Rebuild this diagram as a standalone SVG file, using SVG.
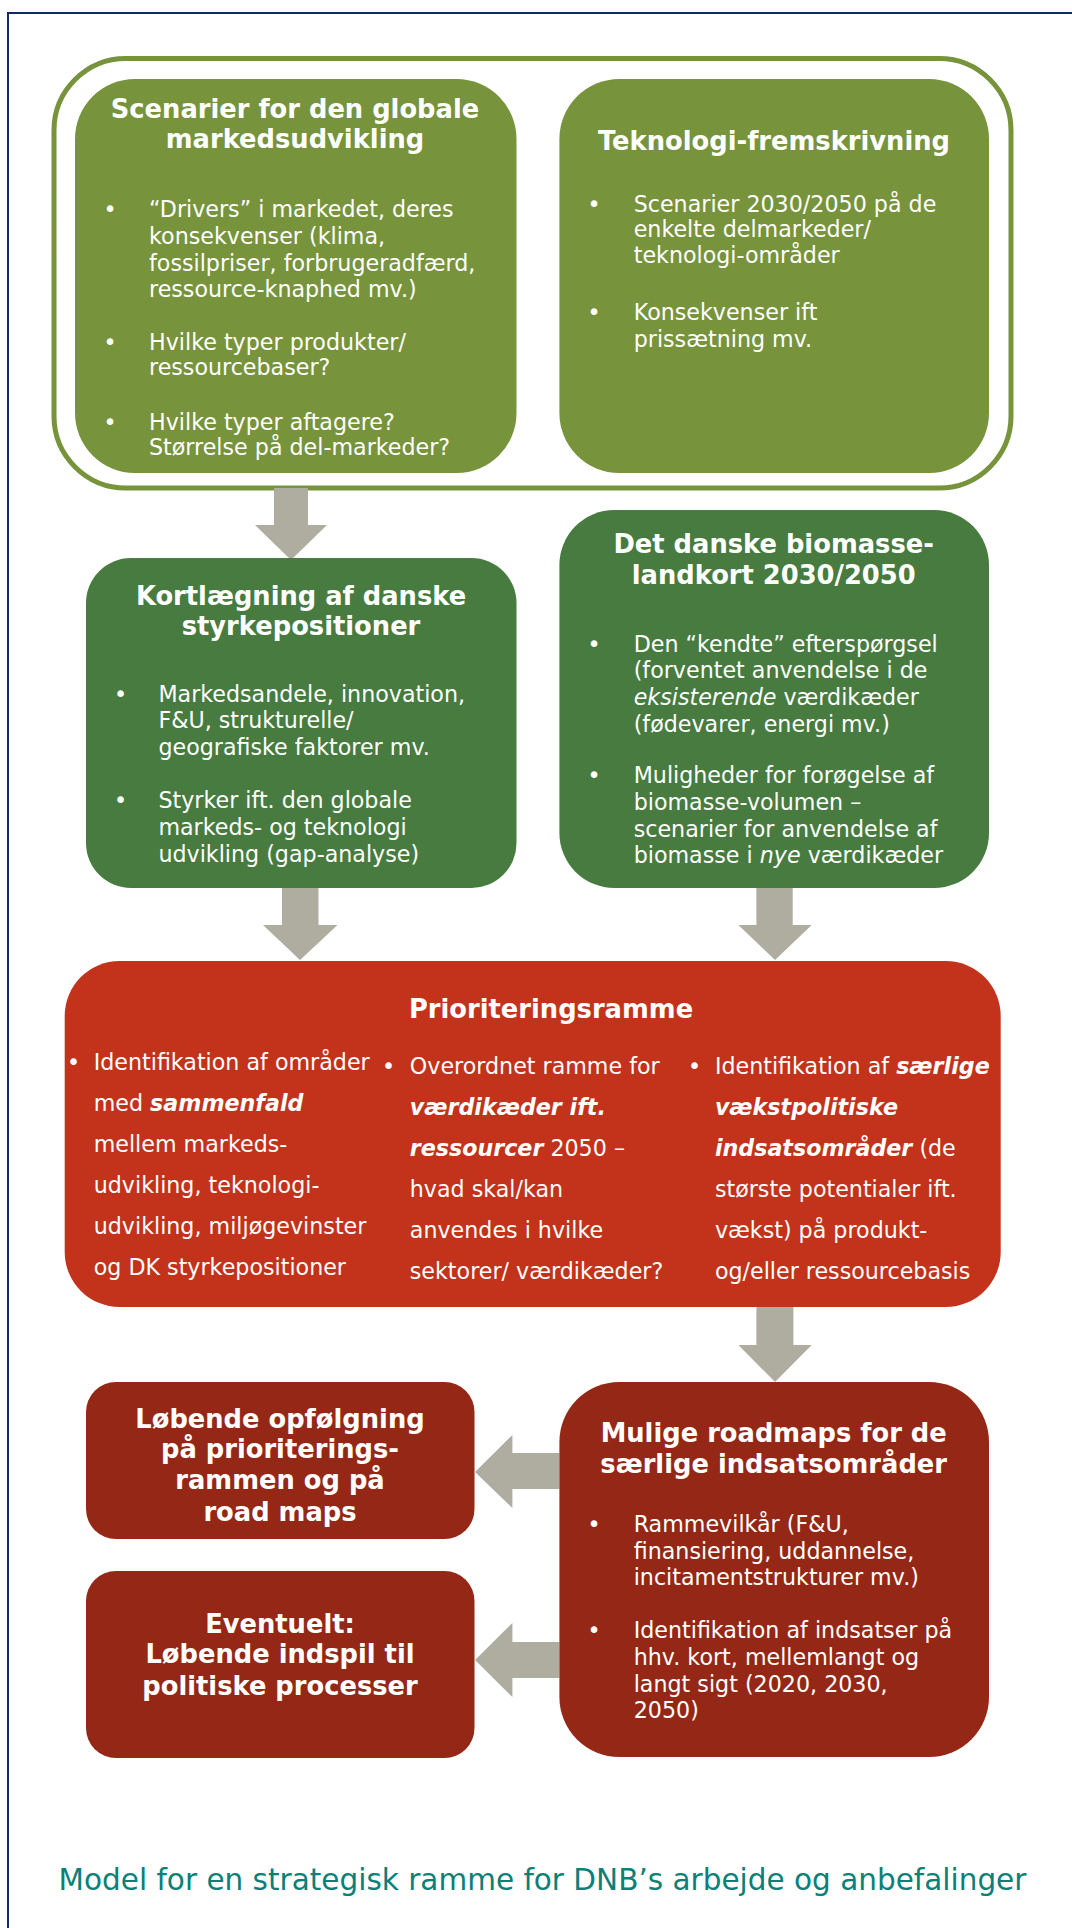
<svg xmlns="http://www.w3.org/2000/svg" width="1072" height="1928" viewBox="0 0 1072 1928">
<style>
.t{font-family:"DejaVu Sans","Verdana",sans-serif;font-weight:bold;font-size:25.75px;fill:#fff;text-anchor:middle}
.b{font-family:"DejaVu Sans","Verdana",sans-serif;font-size:22.2px;fill:#fff}
.bi{font-weight:bold;font-style:italic}
.i{font-style:italic}
.arr{fill:#AEAD9F}
.olive{fill:#77933C}
.green{fill:#477B3F}
.red{fill:#C3321A}
.dred{fill:#952716}
</style>
<rect x="0" y="0" width="1072" height="1928" fill="#fff"/>
<g id="frame">
<line x1="7" y1="13" x2="1072" y2="13" stroke="#0F2A6B" stroke-width="2"/>
<line x1="8" y1="13" x2="8" y2="1928" stroke="#0F2A6B" stroke-width="2"/>
</g>
<g id="outer-group">
<rect x="54" y="58.5" width="957" height="429.5" rx="72" ry="72" fill="#fff" stroke="#77933C" stroke-width="5"/>
</g>
<g id="connectors">
<polygon class="arr" points="274,488 308,488 308,525 327,525 291,560 255,525 274,525"/>
<polygon class="arr" points="282,888 318.5,888 318.5,925 337.5,925 300,960 263,925 282,925"/>
<polygon class="arr" points="756.4,888 792.7,888 792.7,925 811.7,925 775,960 738.4,925 756.4,925"/>
<polygon class="arr" points="756.4,1307 793.4,1307 793.4,1345 811.7,1345 775,1382 738.4,1345 756.4,1345"/>
<polygon class="arr" points="559.4,1453 512.4,1453 512.4,1435 475,1472 512.4,1508 512.4,1489 559.4,1489"/>
<polygon class="arr" points="559.4,1642 512.4,1642 512.4,1623 475,1660 512.4,1697 512.4,1678 559.4,1678"/>
</g>
<g id="scenarier">
<rect class="olive" x="75" y="79" width="441.5" height="394" rx="60" ry="60"/>
<text class="t" x="295" y="118">Scenarier for den globale</text>
<text class="t" x="295" y="148">markedsudvikling</text>
<text class="b" x="103.5" y="217">•</text>
<text class="b" x="149" y="217">“Drivers” i markedet, deres</text>
<text class="b" x="149" y="244">konsekvenser (klima,</text>
<text class="b" x="149" y="271">fossilpriser, forbrugeradfærd,</text>
<text class="b" x="149" y="297">ressource-knaphed mv.)</text>
<text class="b" x="103.5" y="350">•</text>
<text class="b" x="149" y="350">Hvilke typer produkter/</text>
<text class="b" x="149" y="375">ressourcebaser?</text>
<text class="b" x="103.5" y="430">•</text>
<text class="b" x="149" y="430">Hvilke typer aftagere?</text>
<text class="b" x="149" y="455">Størrelse på del-markeder?</text>
</g>
<g id="teknologi">
<rect class="olive" x="559.4" y="79" width="429.6" height="394" rx="60" ry="60"/>
<text class="t" x="774" y="150">Teknologi-fremskrivning</text>
<text class="b" x="587.5" y="212">•</text>
<text class="b" x="633.7" y="212">Scenarier 2030/2050 på de</text>
<text class="b" x="633.7" y="237">enkelte delmarkeder/</text>
<text class="b" x="633.7" y="263">teknologi-områder</text>
<text class="b" x="587.5" y="320">•</text>
<text class="b" x="633.7" y="320">Konsekvenser ift</text>
<text class="b" x="633.7" y="347">prissætning mv.</text>
</g>
<g id="kortlaegning">
<rect class="green" x="86" y="558" width="430.5" height="330" rx="45" ry="45"/>
<text class="t" x="301" y="605">Kortlægning af danske</text>
<text class="t" x="301" y="635">styrkepositioner</text>
<text class="b" x="114" y="702">•</text>
<text class="b" x="158.4" y="702">Markedsandele, innovation,</text>
<text class="b" x="158.4" y="728">F&amp;U, strukturelle/</text>
<text class="b" x="158.4" y="755">geografiske faktorer mv.</text>
<text class="b" x="114" y="808">•</text>
<text class="b" x="158.4" y="808">Styrker ift. den globale</text>
<text class="b" x="158.4" y="835">markeds- og teknologi</text>
<text class="b" x="158.4" y="862">udvikling (gap-analyse)</text>
</g>
<g id="biomasse">
<rect class="green" x="559.4" y="510" width="429.6" height="378" rx="55" ry="55"/>
<text class="t" x="773.7" y="553">Det danske biomasse-</text>
<text class="t" x="773.7" y="584">landkort 2030/2050</text>
<text class="b" x="587.5" y="652">•</text>
<text class="b" x="633.7" y="652">Den “kendte” efterspørgsel</text>
<text class="b" x="633.7" y="678">(forventet anvendelse i de</text>
<text class="b" x="633.7" y="705"><tspan class="i">eksisterende</tspan> værdikæder</text>
<text class="b" x="633.7" y="732">(fødevarer, energi mv.)</text>
<text class="b" x="587.5" y="783">•</text>
<text class="b" x="633.7" y="783">Muligheder for forøgelse af</text>
<text class="b" x="633.7" y="810">biomasse-volumen –</text>
<text class="b" x="633.7" y="837">scenarier for anvendelse af</text>
<text class="b" x="633.7" y="863">biomasse i <tspan class="i">nye</tspan> værdikæder</text>
</g>
<g id="prioritering">
<rect class="red" x="64.7" y="961" width="936" height="346" rx="55" ry="55"/>
<text class="t" x="551" y="1018">Prioriteringsramme</text>
<text class="b" x="67" y="1070">•</text>
<text class="b" x="93.7" y="1070">Identifikation af områder</text>
<text class="b" x="93.7" y="1111">med <tspan class="bi">sammenfald</tspan></text>
<text class="b" x="93.7" y="1152">mellem markeds-</text>
<text class="b" x="93.7" y="1193">udvikling, teknologi-</text>
<text class="b" x="93.7" y="1234">udvikling, miljøgevinster</text>
<text class="b" x="93.7" y="1275">og DK styrkepositioner</text>
<text class="b" x="382" y="1074">•</text>
<text class="b" x="409.8" y="1074">Overordnet ramme for</text>
<text class="b" x="409.8" y="1115"><tspan class="bi">værdikæder ift.</tspan></text>
<text class="b" x="409.8" y="1156"><tspan class="bi">ressourcer</tspan> 2050 –</text>
<text class="b" x="409.8" y="1197">hvad skal/kan</text>
<text class="b" x="409.8" y="1238">anvendes i hvilke</text>
<text class="b" x="409.8" y="1279">sektorer/ værdikæder?</text>
<text class="b" x="688" y="1074">•</text>
<text class="b" x="714.9" y="1074">Identifikation af <tspan class="bi">særlige</tspan></text>
<text class="b" x="714.9" y="1115"><tspan class="bi">vækstpolitiske</tspan></text>
<text class="b" x="714.9" y="1156"><tspan class="bi">indsatsområder</tspan> (de</text>
<text class="b" x="714.9" y="1197">største potentialer ift.</text>
<text class="b" x="714.9" y="1238">vækst) på produkt-</text>
<text class="b" x="714.9" y="1279">og/eller ressourcebasis</text>
</g>
<g id="roadmaps">
<rect class="dred" x="559.4" y="1382" width="429.6" height="375" rx="60" ry="60"/>
<text class="t" x="773.7" y="1442">Mulige roadmaps for de</text>
<text class="t" x="773.7" y="1473">særlige indsatsområder</text>
<text class="b" x="587.5" y="1532">•</text>
<text class="b" x="633.7" y="1532">Rammevilkår (F&amp;U,</text>
<text class="b" x="633.7" y="1559">finansiering, uddannelse,</text>
<text class="b" x="633.7" y="1585">incitamentstrukturer mv.)</text>
<text class="b" x="587.5" y="1638">•</text>
<text class="b" x="633.7" y="1638">Identifikation af indsatser på</text>
<text class="b" x="633.7" y="1665">hhv. kort, mellemlangt og</text>
<text class="b" x="633.7" y="1692">langt sigt (2020, 2030,</text>
<text class="b" x="633.7" y="1718">2050)</text>
</g>
<g id="opfoelgning">
<rect class="dred" x="86" y="1382" width="388.5" height="157" rx="30" ry="30"/>
<text class="t" x="280" y="1428">Løbende opfølgning</text>
<text class="t" x="280" y="1458">på prioriterings-</text>
<text class="t" x="280" y="1489">rammen og på</text>
<text class="t" x="280" y="1521">road maps</text>
</g>
<g id="eventuelt">
<rect class="dred" x="86" y="1571" width="388.5" height="187" rx="30" ry="30"/>
<text class="t" x="280" y="1633">Eventuelt:</text>
<text class="t" x="280" y="1663">Løbende indspil til</text>
<text class="t" x="280" y="1695">politiske processer</text>
</g>
<g id="caption">
<text x="58.5" y="1890" font-family="DejaVu Sans, Verdana, sans-serif" font-size="29.5" fill="#0A8078">Model for en strategisk ramme for DNB’s arbejde og anbefalinger</text>
</g>
</svg>
